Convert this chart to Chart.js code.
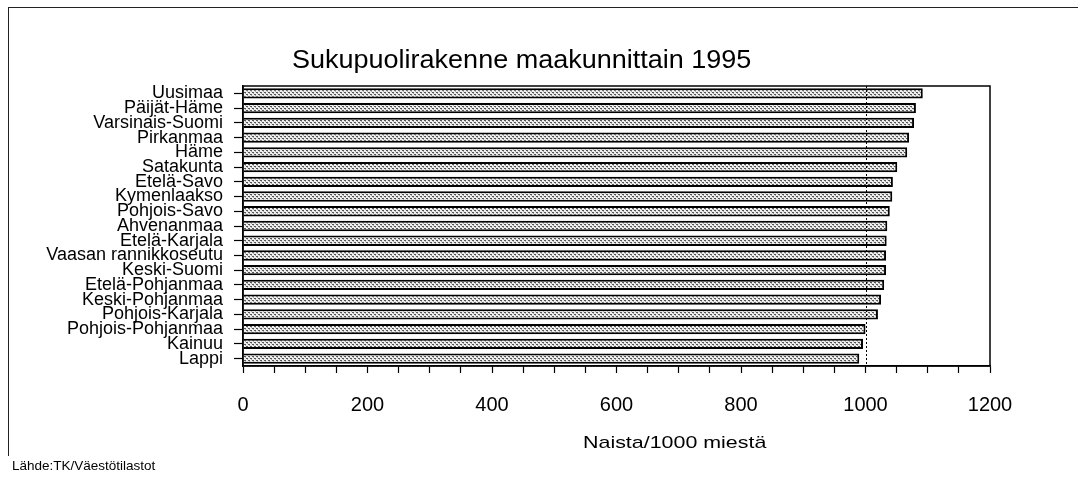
<!DOCTYPE html>
<html>
<head>
<meta charset="utf-8">
<script src="https://cdn.jsdelivr.net/npm/chart.js@4"></script>
<style>
  body { margin: 0; background: #fff; font-family: "Liberation Sans", Arial, sans-serif; }
  #wrap { position: relative; width: 1088px; height: 479px; }
  #frame { position: absolute; left: 8px; top: 7px; width: 1069px; height: 448px; border-left: 1.5px solid #222; border-top: 1.5px solid #222; }
  .txt { position: absolute; color: #000; white-space: nowrap; transform-origin: 0 50%; }
  #title { left: 292px; top: 44px; font-size: 25px; line-height: 30px; transform: scaleX(1.08); }
  #xlabel { left: 583px; top: 433px; font-size: 17px; line-height: 20px; transform: scaleX(1.26); }
  #source { left: 12px; top: 457px; font-size: 13.5px; line-height: 18px; }
</style>
</head>
<body>
<div id="wrap">
  <div id="frame"></div>
  <canvas id="chart" width="1088" height="479"></canvas>
  <div class="txt" id="title">Sukupuolirakenne maakunnittain 1995</div>
  <div class="txt" id="xlabel">Naista/1000 miestä</div>
  <div class="txt" id="source">Lähde:TK/Väestötilastot</div>
</div>
<script>
const regions = ["Uusimaa", "Päijät-Häme", "Varsinais-Suomi", "Pirkanmaa", "Häme", "Satakunta",
  "Etelä-Savo", "Kymenlaakso", "Pohjois-Savo", "Ahvenanmaa", "Etelä-Karjala", "Vaasan rannikkoseutu",
  "Keski-Suomi", "Etelä-Pohjanmaa", "Keski-Pohjanmaa", "Pohjois-Karjala", "Pohjois-Pohjanmaa", "Kainuu", "Lappi"];
const womenPer1000Men = [1092, 1081, 1078, 1070, 1067, 1051, 1044, 1043, 1039, 1035, 1034, 1033,
  1033, 1030, 1025, 1020, 1000, 996, 990];
const xTickLabels = [0, 200, 400, 600, 800, 1000, 1200];
const refLine = [1000];

// dotted fill like the print
function dotPattern() {
  const c = document.createElement("canvas");
  c.width = 4; c.height = 4;
  const g = c.getContext("2d");
  g.fillStyle = "#eeeeee";
  g.fillRect(0, 0, 4, 4);
  g.fillStyle = "#555";
  g.fillRect(0, 0, 2, 1);
  g.fillRect(2, 2, 2, 1);
  g.fillStyle = "#aaa";
  g.fillRect(1, 1, 1, 1);
  g.fillRect(3, 3, 1, 1);
  return g.createPattern(c, "repeat");
}

const frameAndLine = {
  id: "frameAndLine",
  afterDatasetsDraw(chart) {
    const { ctx, chartArea: a, scales } = chart;
    ctx.save();
    ctx.strokeStyle = "#000";
    ctx.lineWidth = 1;
    ctx.setLineDash([2, 2]);
    refLine.forEach(v => {
      const x = Math.round(scales.x.getPixelForValue(v)) + 0.5;
      ctx.beginPath();
      ctx.moveTo(x, a.top);
      ctx.lineTo(x, a.bottom);
      ctx.stroke();
    });
    ctx.setLineDash([]);
    ctx.lineWidth = 1.5;
    ctx.strokeRect(a.left, a.top, a.right - a.left, a.bottom - a.top);
    ctx.restore();
  }
};

const ctx = document.getElementById("chart").getContext("2d");
new Chart(ctx, {
  type: "bar",
  data: {
    labels: regions,
    datasets: [{
      data: womenPer1000Men,
      backgroundColor: dotPattern(),
      borderColor: "#000",
      borderWidth: 2,
      categoryPercentage: 1,
      barPercentage: 0.7
    }]
  },
  options: {
    indexAxis: "y",
    responsive: false,
    animation: false,
    layout: { padding: { top: 86, right: 98, left: 0, bottom: 0 } },
    plugins: { legend: { display: false }, tooltip: { enabled: false } },
    scales: {
      x: {
        min: 0, max: 1200,
        afterFit(s) { s.height = 113; },
        afterBuildTicks(s) {
          const t = [];
          for (let v = 0; v <= 1200; v += 50) t.push({ value: v });
          s.ticks = t;
        },
        ticks: {
          autoSkip: false, maxRotation: 0, padding: 20, color: "#000",
          font: { family: "Liberation Sans", size: 20 },
          callback: v => xTickLabels.includes(v) ? String(v) : ""
        },
        grid: { drawOnChartArea: false, tickLength: 7, color: "#000", tickWidth: 1.2 },
        border: { color: "#000", width: 1.5 }
      },
      y: {
        afterFit(s) { s.width = 243; },
        ticks: {
          padding: 11, color: "#000", autoSkip: false,
          font: { family: "Liberation Sans", size: 18, lineHeight: 1 }
        },
        grid: { drawOnChartArea: false, offset: false, tickLength: 9, color: "#000", tickWidth: 1.2 },
        border: { color: "#000", width: 1.5 }
      }
    }
  },
  plugins: [frameAndLine]
});
</script>
</body>
</html>
